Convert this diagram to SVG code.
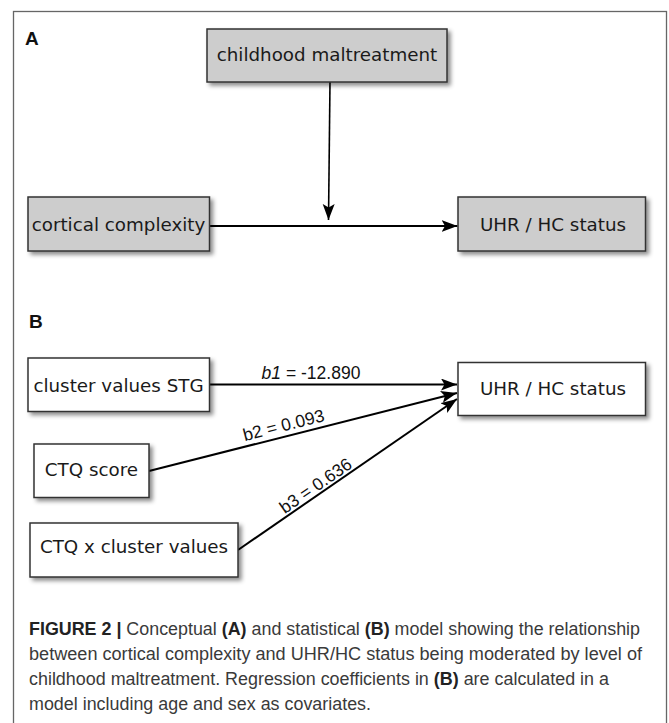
<svg xmlns="http://www.w3.org/2000/svg" width="669" height="723" viewBox="0 0 669 723">
<style>
  .box { stroke: #333; stroke-width: 1.5; filter: url(#sh); }
  .gray { fill: #cdcdcd; }
  .white { fill: #ffffff; }
  .nt { font-family: "DejaVu Sans", Verdana, sans-serif; font-size: 18.3px; fill: #1a1a1a; text-anchor: middle; }
  .lbl { font-family: "Liberation Sans", Arial, sans-serif; font-size: 17.5px; fill: #111; text-anchor: middle; }
  .pl { font-family: "Liberation Sans", Arial, sans-serif; font-size: 19px; font-weight: bold; fill: #111; }
  .cap { font-family: "Liberation Sans", Arial, sans-serif; font-size: 17.5px; fill: #3a3a3a; }
  .cap .b { font-weight: bold; fill: #222; }
  .ln { stroke: #000; stroke-width: 2; fill: none; marker-end: url(#ah); }
</style>
<defs>
  <filter id="sh" x="-10%" y="-20%" width="130%" height="150%">
    <feDropShadow dx="3" dy="3" stdDeviation="2" flood-color="#000" flood-opacity="0.45"/>
  </filter>
  <marker id="ah" markerWidth="18" markerHeight="14" refX="16" refY="6" orient="auto" markerUnits="userSpaceOnUse">
    <path d="M0,0 L16,6 L0,12 L3.5,6 z" fill="#000"/>
  </marker>
</defs>
<rect x="13.5" y="11.5" width="653" height="720" fill="#fff" stroke="#666" stroke-width="1.3"/>

<text class="pl" x="25" y="45">A</text>
<text class="pl" x="29" y="328">B</text>

<g id="connectors">
  <line class="ln" x1="330" y1="82" x2="328.5" y2="220" style="stroke-width:1.6"/>
  <line class="ln" x1="209.5" y1="226" x2="457.5" y2="226"/>
  <line class="ln" x1="209.5" y1="384.5" x2="457" y2="384.5"/>
  <line class="ln" x1="149" y1="471" x2="457" y2="393"/>
  <line class="ln" x1="238" y1="550" x2="457" y2="399"/>
  <text class="lbl" x="311" y="379"><tspan font-style="italic">b1</tspan> = -12.890</text>
  <text class="lbl" x="285" y="431" transform="rotate(-14.2 285 431)">b2 = 0.093</text>
  <text class="lbl" x="319" y="490.5" transform="rotate(-34.6 319 490.5)">b3 = 0.636</text>
</g>

<g id="node-childhood">
  <rect class="box gray" x="207" y="29" width="240" height="53"/>
  <text class="nt" x="327" y="61">childhood maltreatment</text>
</g>
<g id="node-cortical">
  <rect class="box gray" x="28" y="197" width="181.5" height="54"/>
  <text class="nt" x="118.5" y="231">cortical complexity</text>
</g>
<g id="node-status-a">
  <rect class="box gray" x="458" y="197" width="187.5" height="54"/>
  <text class="nt" x="553" y="231">UHR / HC status</text>
</g>

<g id="node-stg">
  <rect class="box white" x="28" y="358" width="181.5" height="53.5"/>
  <text class="nt" x="118.5" y="392">cluster values STG</text>
</g>
<g id="node-status-b">
  <rect class="box white" x="458" y="362.5" width="187.5" height="53"/>
  <text class="nt" x="553" y="395">UHR / HC status</text>
</g>
<g id="node-ctq">
  <rect class="box white" x="34" y="444" width="115" height="53.5"/>
  <text class="nt" x="91.5" y="476">CTQ score</text>
</g>
<g id="node-ctqx">
  <rect class="box white" x="30" y="523" width="208" height="54"/>
  <text class="nt" x="134" y="553">CTQ x cluster values</text>
</g>

<g id="caption">
  <text class="cap" x="29" y="635" textLength="611" lengthAdjust="spacingAndGlyphs"><tspan class="b">FIGURE 2 |</tspan> Conceptual <tspan class="b">(A)</tspan> and statistical <tspan class="b">(B)</tspan> model showing the relationship</text>
  <text class="cap" x="29" y="660" textLength="613" lengthAdjust="spacingAndGlyphs">between cortical complexity and UHR/HC status being moderated by level of</text>
  <text class="cap" x="29" y="685" textLength="580" lengthAdjust="spacingAndGlyphs">childhood maltreatment. Regression coefficients in <tspan class="b">(B)</tspan> are calculated in a</text>
  <text class="cap" x="29" y="710" textLength="342" lengthAdjust="spacingAndGlyphs">model including age and sex as covariates.</text>
</g>
</svg>
